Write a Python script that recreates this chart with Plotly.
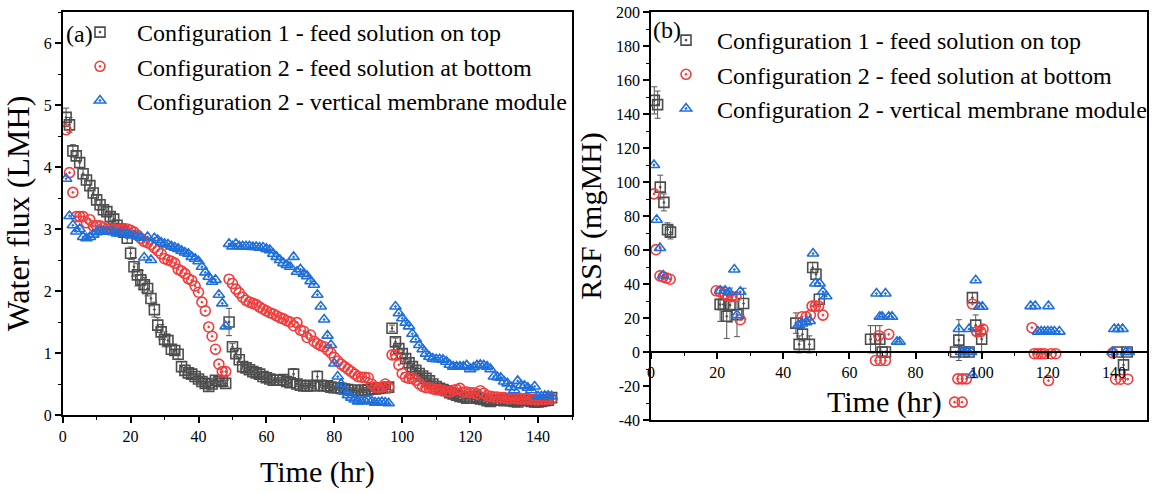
import plotly.graph_objects as go

# ---------------- Panel (a): water flux (LMH) ----------------
t_seg1 = list(range(1, 49))
t_seg2 = list(range(49, 97))
t_seg3 = list(range(97, 145))
t_blue3 = list(range(98, 145))

gray_a1 = [4.80, 4.68, 4.26, 4.18, 4.07, 3.89, 3.79, 3.70, 3.58, 3.47, 3.39, 3.31, 3.28, 3.20, 3.16, 3.06,
           3.00, 2.95, 2.85, 2.61, 2.39, 2.26, 2.18, 2.10, 2.04, 1.88, 1.70, 1.45, 1.34, 1.22, 1.20, 1.06,
           1.04, 0.98, 0.78, 0.72, 0.68, 0.66, 0.62, 0.58, 0.54, 0.51, 0.46, 0.50, 0.56, 0.54, 0.55, 0.51]
gray_a2 = [1.50, 1.10, 0.99, 0.89, 0.78, 0.76, 0.73, 0.70, 0.68, 0.66, 0.62, 0.60, 0.58, 0.56, 0.56, 0.56,
           0.57, 0.54, 0.52, 0.66, 0.50, 0.48, 0.47, 0.47, 0.48, 0.47, 0.62, 0.48, 0.47, 0.47, 0.45, 0.44,
           0.44, 0.43, 0.42, 0.41, 0.40, 0.40, 0.39, 0.40, 0.40, 0.41, 0.42, 0.42, 0.43, 0.44, 0.44, 0.45]
gray_a3 = [1.40, 1.18, 1.07, 0.99, 0.91, 0.84, 0.78, 0.72, 0.67, 0.63, 0.59, 0.55, 0.50, 0.46, 0.43, 0.41,
           0.39, 0.36, 0.34, 0.32, 0.30, 0.29, 0.27, 0.27, 0.30, 0.28, 0.26, 0.25, 0.23, 0.22, 0.24, 0.25,
           0.24, 0.23, 0.24, 0.23, 0.22, 0.21, 0.24, 0.23, 0.24, 0.22, 0.21, 0.21, 0.22, 0.23, 0.24, 0.28]
gray_a1_err = [0.15, 0.12, 0.10, 0.08, 0.08, 0.08, 0.08, 0.08, 0.08, 0.08, 0.08, 0.08, 0.08, 0.08, 0.08, 0.08,
               0.08, 0.08, 0.08, 0.10, 0.15, 0.18, 0.15, 0.12, 0.12, 0.12, 0.12, 0.12, 0.12, 0.12, 0.10, 0.08,
               0.08, 0.08, 0.08, 0.08, 0.08, 0.08, 0.08, 0.06, 0.06, 0.06, 0.06, 0.06, 0.05, 0.05, 0.05, 0.05]
gray_a2_err = [0.22, 0.05, 0.05, 0.04, 0.04, 0.04, 0.04, 0.04, 0.04, 0.04, 0.04, 0.04, 0.04, 0.04, 0.04, 0.04,
               0.04, 0.04, 0.04, 0.09, 0.04, 0.04, 0.04, 0.04, 0.04, 0.04, 0.09, 0.04, 0.04, 0.04, 0.04, 0.04,
               0.04, 0.04, 0.04, 0.04, 0.04, 0.04, 0.04, 0.04, 0.04, 0.04, 0.04, 0.04, 0.04, 0.04, 0.04, 0.04]
gray_a3_err = [0.05, 0.06, 0.06, 0.06, 0.06, 0.05, 0.05, 0.05, 0.05, 0.05, 0.05, 0.05, 0.05, 0.05, 0.05, 0.05,
               0.05, 0.05, 0.05, 0.05, 0.05, 0.05, 0.05, 0.05, 0.05, 0.05, 0.05, 0.05, 0.05, 0.05, 0.05, 0.05,
               0.05, 0.05, 0.05, 0.05, 0.05, 0.05, 0.05, 0.05, 0.08, 0.08, 0.08, 0.08, 0.08, 0.08, 0.08, 0.08]

red_a1 = [4.60, 3.91, 3.59, 3.20, 3.20, 3.20, 3.10, 3.15, 3.05, 3.05, 3.05, 3.02, 3.00, 3.00, 3.00, 2.98,
          3.00, 3.00, 3.00, 2.98, 2.95, 2.90, 2.85, 2.80, 2.78, 2.75, 2.70, 2.65, 2.60, 2.52, 2.50, 2.48,
          2.45, 2.35, 2.32, 2.28, 2.20, 2.17, 2.08, 1.98, 1.82, 1.68, 1.42, 1.27, 1.06, 0.82, 0.70, 0.70]
red_a2 = [2.19, 2.12, 2.03, 1.97, 1.90, 1.85, 1.82, 1.80, 1.78, 1.74, 1.71, 1.68, 1.65, 1.63, 1.60, 1.57,
          1.55, 1.52, 1.50, 1.44, 1.49, 1.37, 1.35, 1.25, 1.29, 1.19, 1.15, 1.12, 1.10, 1.05, 1.00, 0.93,
          0.87, 0.82, 0.78, 0.74, 0.70, 0.66, 0.62, 0.61, 0.61, 0.60, 0.50, 0.45, 0.44, 0.45, 0.50, 0.45]
red_a3 = [0.97, 0.97, 0.81, 0.67, 0.61, 0.59, 0.59, 0.56, 0.50, 0.46, 0.44, 0.44, 0.42, 0.41, 0.41, 0.40,
          0.38, 0.37, 0.40, 0.41, 0.43, 0.37, 0.37, 0.36, 0.36, 0.34, 0.39, 0.35, 0.31, 0.30, 0.29, 0.29,
          0.28, 0.28, 0.27, 0.27, 0.27, 0.26, 0.26, 0.26, 0.26, 0.25, 0.25, 0.25, 0.25, 0.25, 0.26, 0.26]

blue_a1 = [3.81, 3.21, 3.06, 2.96, 3.00, 2.87, 2.85, 2.87, 2.91, 2.95, 2.96, 2.96, 2.96, 2.96, 2.95, 2.93,
           2.93, 2.92, 2.92, 2.90, 2.90, 2.88, 2.86, 2.54, 2.87, 2.50, 2.85, 2.82, 2.78, 2.76, 2.75, 2.72,
           2.70, 2.68, 2.65, 2.62, 2.60, 2.55, 2.52, 2.48, 2.39, 2.30, 2.23, 2.15, 2.18, 1.94, 1.80, 1.43]
blue_a2 = [2.76, 2.72, 2.76, 2.72, 2.72, 2.72, 2.72, 2.71, 2.71, 2.70, 2.70, 2.68, 2.66, 2.60, 2.55, 2.50,
           2.45, 2.42, 2.39, 2.55, 2.31, 2.35, 2.28, 2.24, 2.16, 2.10, 1.94, 1.75, 1.54, 1.28, 1.13, 0.83,
           0.62, 0.50, 0.38, 0.32, 0.28, 0.25, 0.22, 0.22, 0.23, 0.24, 0.22, 0.20, 0.20, 0.21, 0.20, 0.19]
blue_a3 = [1.75, 1.64, 1.56, 1.49, 1.43, 1.31, 1.22, 1.13, 1.06, 0.99, 0.94, 0.91, 0.90, 0.90, 0.89, 0.86,
           0.81, 0.78, 0.78, 0.78, 0.78, 0.80, 0.74, 0.77, 0.80, 0.81, 0.80, 0.78, 0.74, 0.62, 0.61, 0.60,
           0.54, 0.51, 0.45, 0.40, 0.55, 0.48, 0.47, 0.44, 0.40, 0.46, 0.30, 0.30, 0.31, 0.31, 0.30]

# ---------------- Panel (b): RSF (mgMH) ----------------
gray_b_t = [1, 2, 2.8, 3.9, 5, 5.9, 20.9, 21.9, 22.9, 23.9, 26, 28, 43.8, 44.8, 45.8, 47.9, 48.9, 49.9, 50.9,
            66.4, 67.9, 69.2, 69.9, 70.9, 92.1, 93.1, 94.6, 96.2, 97.2, 98.2, 100, 141, 142.9, 144]
gray_b_v = [148, 145.5, 97, 88, 72, 70.5, 28, 28, 21, 27.6, 22, 28.5, 17, 4.5, 10.5, 4.5, 49.7, 45.7, 31,
            7.5, 7.5, 7.5, 0, 0, 0, 7, 0, 0, 32, 15.8, 7.6, 0, -7.6, 0]
gray_b_err = [8, 8, 7, 5, 4, 4, 10, 10, 13, 10, 13, 9, 6, 5, 4, 5, 3, 3, 3,
              8, 8, 8, 0, 0, 0, 12, 0, 0, 3, 6, 8, 0, 8, 0]

red_b_t = [0.9, 1.5, 2.7, 3.7, 4.7, 5.8,
           19.7, 20.9, 22.4, 23.2, 24.4, 25.7, 27,
           45.7, 46.9, 48.2, 48.7, 49.7, 50.7, 52,
           67.9, 68.9, 69.4, 70.9, 71.9,
           91.8, 94.1, 92.8, 94.1, 95.4, 97.2, 98.5, 99.7, 100.4,
           115.2, 115.9, 117, 118, 119, 121, 122.4, 120.2,
           139.6, 140.5, 142, 144.2]
red_b_v = [93, 60.2, 44.8, 44.2, 43.5, 42.8,
           36, 35.5, 34, 32.8, 32.5, 32.5, 19,
           20.7, 20.7, 21.7, 27, 27, 27, 21.7,
           -5, 9.6, -5, -5, 10.4,
           -29.5, -29.5, -15.8, -15.8, -15.8, 28.2, 12, 12, 13.5,
           14.3, -1, -1, -1, -1, -1, -1, -16.8,
           -0.5, -16, -16, -16]

blue_b_t = [0.9, 1.7, 2.7, 3.7,
            20.9, 22.4, 23.7, 25.2, 26, 27,
            44.6, 45.7, 46.9, 48, 49, 49.7, 51, 52, 53,
            68.2, 70.9, 69.2, 69.9, 71.9, 72.9, 74.4, 75.2,
            93.1, 96.2, 98.2, 99.2, 100.2, 93.8, 94.8, 95.8, 96.8, 97.2,
            114.8, 116.2, 120.2, 117, 118, 119, 120, 121, 122, 123.5,
            139.6, 140.1, 141.3, 142.6, 143.6, 144.5]
blue_b_v = [110, 77.8, 61.2, 45,
            36, 36, 35, 48.5, 21.7, 35.4,
            15.8, 16.8, 17.5, 18.2, 57.9, 40.3, 40.3, 35.4, 32.8,
            34.4, 34.4, 20.7, 20.7, 20.7, 20.7, 6, 6,
            13.5, 13.5, 42.2, 26.6, 26.6, 0, 0, 0, 0, -13.5,
            27, 27, 27, 12, 12, 12, 12, 12, 12, 12,
            0, 13.5, 13.5, 13.5, 0, 0]

names = ["Configuration 1 - feed solution on top",
         "Configuration 2 - feed solution at bottom",
         "Configuration 2 - vertical membrane module"]

GRAY = "#4d4d4d"
RED = "#f23c3c"
BLUE = "#1f6fdc"
SERIF = "Liberation Serif"
W, H = 1160, 493

def px_x(p):
    return p / W

def px_y(p):
    return 1 - p / H

fig = go.Figure()

mk = dict(size=10, line=dict(width=1.6))

fig.add_trace(go.Scatter(
    x=t_seg1 + t_seg2 + t_seg3, y=gray_a1 + gray_a2 + gray_a3, mode="markers", name=names[0],
    marker=dict(symbol="square-open-dot", color=GRAY, **mk),
    error_y=dict(type="data", array=gray_a1_err + gray_a2_err + gray_a3_err, color="#555555",
                 thickness=1, width=3),
    xaxis="x", yaxis="y", legend="legend"))
fig.add_trace(go.Scatter(
    x=t_seg1 + t_seg2 + t_seg3, y=red_a1 + red_a2 + red_a3, mode="markers", name=names[1],
    marker=dict(symbol="circle-open-dot", color=RED, **mk),
    xaxis="x", yaxis="y", legend="legend"))
fig.add_trace(go.Scatter(
    x=t_seg1 + t_seg2 + t_blue3, y=blue_a1 + blue_a2 + blue_a3, mode="markers", name=names[2],
    marker=dict(symbol="triangle-up-open-dot", color=BLUE, **mk),
    xaxis="x", yaxis="y", legend="legend"))

fig.add_trace(go.Scatter(
    x=gray_b_t, y=gray_b_v, mode="markers", name=names[0],
    marker=dict(symbol="square-open-dot", color=GRAY, **mk),
    error_y=dict(type="data", array=gray_b_err, color="#555555", thickness=1, width=3),
    xaxis="x2", yaxis="y2", legend="legend2"))
fig.add_trace(go.Scatter(
    x=red_b_t, y=red_b_v, mode="markers", name=names[1],
    marker=dict(symbol="circle-open-dot", color=RED, **mk),
    xaxis="x2", yaxis="y2", legend="legend2"))
fig.add_trace(go.Scatter(
    x=blue_b_t, y=blue_b_v, mode="markers", name=names[2],
    marker=dict(symbol="triangle-up-open-dot", color=BLUE, **mk),
    xaxis="x2", yaxis="y2", legend="legend2"))
# carrier trace for the zero-crossing x axis of panel (b)
fig.add_trace(go.Scatter(x=[None], y=[None], mode="markers", showlegend=False,
                         xaxis="x3", yaxis="y2", hoverinfo="skip"))

tickfont = dict(family=SERIF, size=16, color="black")
titlefont = dict(family=SERIF, size=30, color="black")
ytitlefont = dict(family=SERIF, size=32, color="black")
axis_common = dict(showline=True, linecolor="black", linewidth=1.5, showgrid=False, zeroline=False,
                   ticks="outside", ticklen=6, tickwidth=1.5, tickcolor="black", tickfont=tickfont)

xa_dom = [px_x(62.7), px_x(572)]
xb_dom = [px_x(651), px_x(1147)]
ya_dom = [px_y(415), px_y(12)]
yb_dom = [px_y(420), px_y(12)]
yb_range = [-40, 200]
zero_pos = yb_dom[0] + (0 - yb_range[0]) / (yb_range[1] - yb_range[0]) * (yb_dom[1] - yb_dom[0])

yb_ticks = [-40, -20, 0, 20, 40, 60, 80, 100, 120, 140, 160, 180, 200]
yb_text = [str(v) for v in yb_ticks]

fig.update_layout(
    width=W, height=H, margin=dict(l=0, r=0, t=0, b=0),
    paper_bgcolor="white", plot_bgcolor="white", hovermode=False,
    font=dict(family=SERIF, color="black"),
    xaxis=dict(domain=xa_dom, range=[0, 150], anchor="y", mirror=True, dtick=20, tick0=0,
               minor=dict(dtick=10, ticklen=3, ticks="outside", tickcolor="black", tickwidth=1.2),
               title=dict(text="Time (hr)", font=titlefont, standoff=17), automargin=False,
               **axis_common),
    yaxis=dict(domain=ya_dom, range=[0, 6.5], anchor="x", mirror=True, dtick=1, tick0=0,
               minor=dict(dtick=0.5, ticklen=3, ticks="outside", tickcolor="black", tickwidth=1.2),
               title=dict(text="Water flux (LMH)", font=ytitlefont, standoff=8), automargin=False,
               **axis_common),
    xaxis2=dict(domain=xb_dom, range=[0, 150], anchor="y2", mirror=True, showline=True,
                linecolor="black", linewidth=1.5, showgrid=False, zeroline=False, ticks="",
                showticklabels=False, automargin=False),
    xaxis3=dict(domain=xb_dom, range=[0, 150], overlaying="x2", anchor="free", position=zero_pos,
                side="bottom", dtick=20, tick0=0,
                minor=dict(dtick=10, ticklen=3, ticks="outside", tickcolor="black", tickwidth=1.2),
                automargin=False, **axis_common),
    yaxis2=dict(domain=yb_dom, range=yb_range, anchor="x2", mirror=True, tickmode="array",
                tickvals=yb_ticks, ticktext=yb_text,
                minor=dict(dtick=10, tick0=0, ticklen=3, ticks="outside", tickcolor="black", tickwidth=1.2),
                title=dict(text="RSF (mgMH)", font=titlefont, standoff=6), automargin=False,
                **axis_common),
    legend=dict(x=px_x(63), y=px_y(10), xanchor="left", yanchor="top", bgcolor="rgba(0,0,0,0)",
                font=dict(family=SERIF, size=24, color="black"), itemwidth=64, tracegroupgap=0),
    legend2=dict(x=px_x(655), y=px_y(18), xanchor="left", yanchor="top", bgcolor="rgba(0,0,0,0)",
                 font=dict(family=SERIF, size=24, color="black"), itemwidth=52, tracegroupgap=0),
    annotations=[
        dict(text="(a)", x=px_x(64), y=px_y(34), xref="paper", yref="paper", xanchor="left",
             yanchor="middle", showarrow=False, font=dict(family=SERIF, size=24, color="black")),
        dict(text="(b)", x=px_x(651), y=px_y(30), xref="paper", yref="paper", xanchor="left",
             yanchor="middle", showarrow=False, font=dict(family=SERIF, size=24, color="black")),
        dict(text="Time (hr)", x=px_x(884), y=px_y(402), xref="paper", yref="paper", xanchor="center",
             yanchor="middle", showarrow=False, font=titlefont),
    ],
)

fig.write_html("out.html")
